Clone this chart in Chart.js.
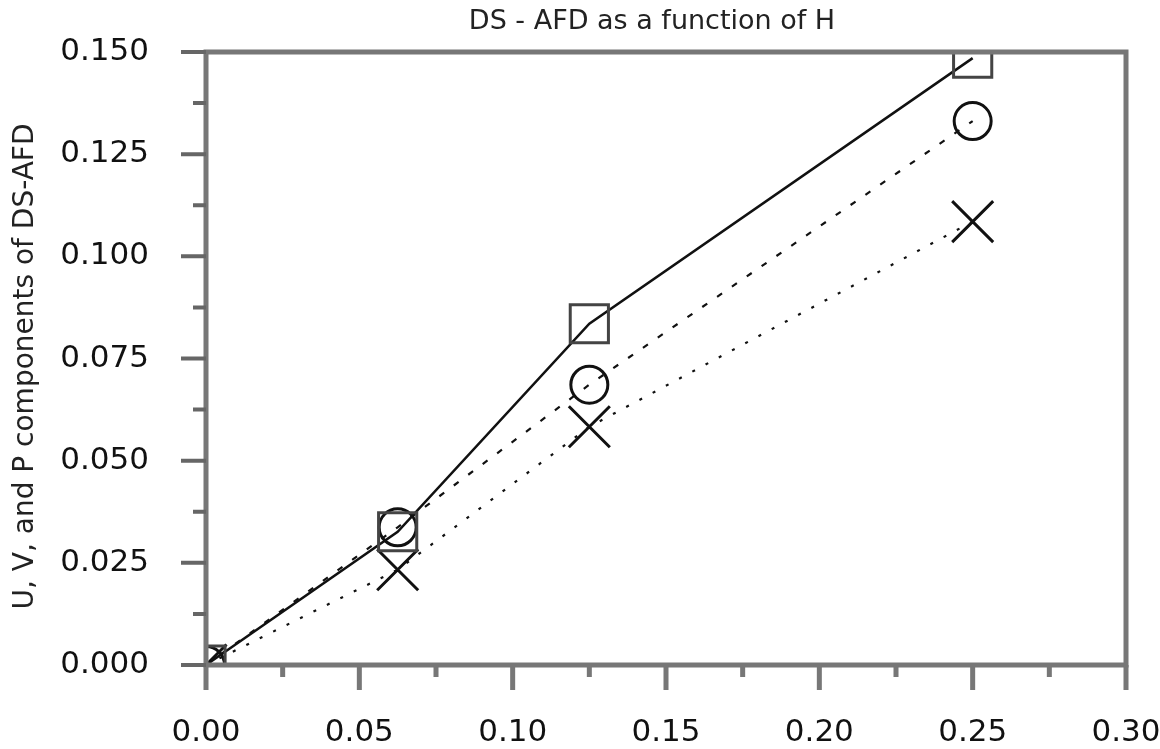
<!DOCTYPE html>
<html lang="en">
<head>
<meta charset="UTF-8">
<title>DS - AFD as a function of H</title>
<style>
  html, body { margin: 0; padding: 0; background: #fff; }
  #wrap { width: 1160px; height: 749px; }
</style>
</head>
<body>
<div id="wrap"><canvas id="myChart"></canvas></div>
<script src="https://cdn.jsdelivr.net/npm/chart.js"></script>
<script>
"use strict"

// values
const h_values = [0, 0.0625, 0.125, 0.25]
const u_values = [0, 0.0326, 0.0835, 0.1485]   // squares, solid line
const v_values = [0, 0.0337, 0.0686, 0.1331]   // circles, dashed line
const p_values = [0, 0.0233, 0.0583, 0.1085]   // crosses, dotted line

const x_ticks = [0, 0.05, 0.10, 0.15, 0.20, 0.25, 0.30]
const y_ticks = [0, 0.025, 0.050, 0.075, 0.100, 0.125, 0.150]

const title_text = "DS - AFD as a function of H"
const y_title_text = "U, V, and P components of DS-AFD"

const FONT = "'DejaVu Sans', sans-serif"

function points(ys){
  return h_values.map((h, i) => ({x: h, y: ys[i]}))
}
function minors(ticks){
  let out = []
  for(let i = 0; i < ticks.length - 1; i++) out.push((ticks[i] + ticks[i + 1]) / 2)
  return out
}

// frame, tick marks and titles
const frame = {
  id: 'frame',
  afterDatasetsDraw(chart){
    const {ctx, chartArea: a, scales} = chart
    const x = scales.x, y = scales.y
    ctx.save()
    ctx.strokeStyle = '#777'
    ctx.lineWidth = 5
    ctx.strokeRect(a.left, a.top, a.right - a.left, a.bottom - a.top)

    ctx.beginPath()
    x_ticks.forEach(v => { const px = x.getPixelForValue(v); ctx.moveTo(px, a.bottom); ctx.lineTo(px, a.bottom + 25) })
    minors(x_ticks).forEach(v => { const px = x.getPixelForValue(v); ctx.moveTo(px, a.bottom); ctx.lineTo(px, a.bottom + 12) })
    ctx.stroke()

    ctx.lineWidth = 4
    ctx.strokeStyle = '#666'
    ctx.beginPath()
    y_ticks.forEach(v => { const py = y.getPixelForValue(v); ctx.moveTo(a.left, py); ctx.lineTo(a.left - 25, py) })
    minors(y_ticks).forEach(v => { const py = y.getPixelForValue(v); ctx.moveTo(a.left, py); ctx.lineTo(a.left - 13, py) })
    ctx.stroke()

    ctx.fillStyle = '#222'
    ctx.textAlign = 'center'
    ctx.textBaseline = 'alphabetic'
    ctx.font = "27px " + FONT
    ctx.fillText(title_text, 652, 29)

    ctx.translate(33, 366.5)
    ctx.rotate(-Math.PI / 2)
    ctx.font = "28px " + FONT
    ctx.fillText(y_title_text, 0, 0)
    ctx.restore()
  }
}

new Chart(document.getElementById('myChart'), {
  type: 'line',
  data: {
    datasets: [
      {
        label: 'U',
        data: points(u_values),
        borderColor: '#111',
        borderWidth: 2.5,
        pointStyle: 'rect',
        pointRadius: 27,
        pointBorderWidth: 3,
        pointBorderColor: '#444',
        pointBackgroundColor: 'transparent',
      },
      {
        label: 'V',
        data: points(v_values),
        borderColor: '#111',
        borderWidth: 2.2,
        borderDash: [6, 12],
        pointStyle: 'circle',
        pointRadius: 18.5,
        pointBorderWidth: 3,
        pointBorderColor: '#111',
        pointBackgroundColor: 'transparent',
      },
      {
        label: 'P',
        data: points(p_values),
        borderColor: '#111',
        borderWidth: 2.2,
        borderDash: [3, 12],
        pointStyle: 'crossRot',
        pointRadius: 29,
        pointBorderWidth: 3,
        pointBorderColor: '#111',
        pointBackgroundColor: 'transparent',
      }
    ]
  },
  options: {
    responsive: true,
    maintainAspectRatio: false,
    animation: false,
    layout: { padding: { top: 52, right: 34, bottom: 0, left: 0 } },
    elements: { line: { tension: 0, fill: false }, point: { hoverRadius: 0 } },
    datasets: { line: { clip: 0 } },
    plugins: {
      legend: { display: false },
      title: { display: false },
      tooltip: { enabled: false }
    },
    scales: {
      x: {
        type: 'linear',
        min: 0,
        max: 0.3,
        grid: { display: false },
        border: { display: false },
        afterBuildTicks: s => { s.ticks = x_ticks.map(v => ({value: v})) },
        afterFit: s => { s.height = 84; s.paddingLeft = 0; s.paddingRight = 0 },
        ticks: {
          autoSkip: false,
          maxRotation: 0,
          padding: 41,
          color: '#111',
          font: { family: FONT, size: 31 },
          callback: v => v.toFixed(2)
        }
      },
      y: {
        type: 'linear',
        min: 0,
        max: 0.15,
        grid: { display: false },
        border: { display: false },
        afterBuildTicks: s => { s.ticks = y_ticks.map(v => ({value: v})) },
        afterFit: s => { s.width = 206; s.paddingTop = 0; s.paddingBottom = 0 },
        ticks: {
          autoSkip: false,
          padding: 49,
          color: '#111',
          font: { family: FONT, size: 31 },
          callback: v => v.toFixed(3)
        }
      }
    }
  },
  plugins: [frame]
})
</script>
</body>
</html>
